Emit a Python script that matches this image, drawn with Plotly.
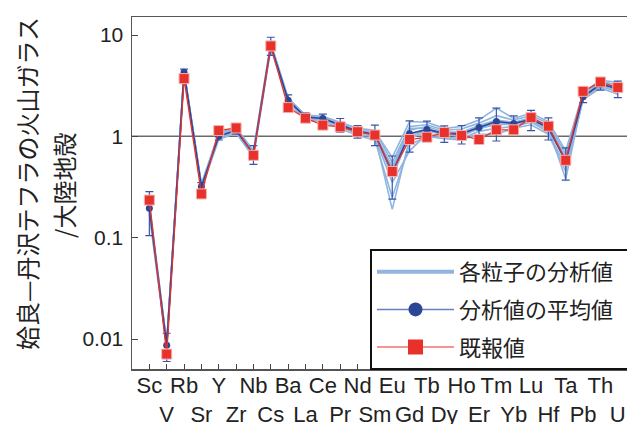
import plotly.graph_objects as go

elements = ["Sc", "V", "Rb", "Sr", "Y", "Zr", "Nb", "Cs", "Ba", "La", "Ce", "Pr", "Nd", "Sm",
            "Eu", "Gd", "Tb", "Dy", "Ho", "Er", "Tm", "Yb", "Lu", "Hf", "Ta", "Pb", "Th", "U"]

# mean of particle analyses
mean_vals = [0.195, 0.0087, 4.3, 0.32, 1.0, 1.15, 0.67, 7.9, 2.27, 1.55, 1.50, 1.30, 1.12, 1.05,
             0.44, 1.06, 1.17, 1.07, 1.06, 1.22, 1.40, 1.34, 1.47, 1.22, 0.57, 2.46, 3.26, 2.96]
mean_err = [0.09, 0.0027, 0.3, 0.03, 0.08, 0.1, 0.14, 1.6, 0.29, 0.16, 0.16, 0.2, 0.16, 0.24,
            0.2, 0.36, 0.24, 0.2, 0.22, 0.3, 0.5, 0.25, 0.33, 0.3, 0.2, 0.31, 0.4, 0.55]
# previously reported values
reported = [0.235, 0.0071, 3.71, 0.27, 1.14, 1.21, 0.65, 7.8, 1.92, 1.51, 1.29, 1.24, 1.11, 1.03,
            0.45, 0.93, 0.98, 1.09, 1.02, 0.93, 1.16, 1.16, 1.53, 1.26, 0.58, 2.78, 3.44, 3.03]

# individual particles
p1 = [0.21, 0.0090, 4.4, 0.33, 1.05, 1.2, 0.70, 8.2, 2.35, 1.62, 1.58, 1.38, 1.2, 1.15,
      0.55, 1.25, 1.3, 1.15, 1.18, 1.35, 1.6, 1.45, 1.6, 1.35, 0.66, 2.6, 3.5, 3.2]
p2 = [0.17, 0.0082, 4.1, 0.30, 0.93, 1.08, 0.62, 7.4, 2.15, 1.45, 1.40, 1.2, 1.02, 0.92,
      0.25, 0.82, 1.0, 0.95, 0.92, 1.05, 1.05, 1.2, 1.3, 1.05, 0.45, 2.3, 3.0, 2.6]
p3 = [0.19, 0.0085, 4.25, 0.31, 0.98, 1.14, 0.66, 7.8, 2.25, 1.52, 1.5, 1.28, 1.1, 1.02,
      0.19, 0.95, 1.12, 1.05, 1.0, 1.2, 1.3, 1.32, 1.45, 1.2, 0.38, 2.45, 3.25, 2.9]
p4 = [0.22, 0.0092, 4.45, 0.34, 1.08, 1.22, 0.72, 8.4, 2.4, 1.6, 1.55, 1.35, 1.18, 1.12,
      0.62, 1.4, 1.38, 1.2, 1.25, 1.45, 1.9, 1.5, 1.7, 1.4, 0.72, 2.7, 3.6, 3.4]
p5 = [0.18, 0.0086, 4.2, 0.32, 0.95, 1.12, 0.64, 7.6, 2.2, 1.5, 1.45, 1.25, 1.06, 0.98,
      0.35, 0.72, 1.05, 0.98, 0.95, 1.12, 1.2, 1.25, 1.38, 1.1, 0.5, 2.35, 3.1, 2.75]
p6 = [0.2, 0.0088, 4.35, 0.33, 1.02, 1.17, 0.68, 8.0, 2.3, 1.58, 1.52, 1.32, 1.14, 1.08,
      0.48, 1.15, 1.25, 1.1, 1.1, 1.28, 1.45, 1.38, 1.52, 1.28, 0.6, 2.5, 3.35, 3.05]
p7 = [0.19, 0.0084, 4.3, 0.31, 0.99, 1.15, 0.67, 7.9, 2.27, 1.54, 1.48, 1.3, 1.12, 1.04,
      0.40, 1.0, 1.15, 1.08, 1.05, 1.18, 1.35, 1.35, 1.48, 1.22, 0.55, 2.45, 3.3, 3.0]
p8 = [0.2, 0.0089, 4.3, 0.32, 1.0, 1.16, 0.66, 7.95, 2.28, 1.56, 1.52, 1.3, 1.12, 1.06,
      0.5, 1.2, 1.2, 1.05, 1.08, 1.25, 1.42, 1.3, 1.42, 1.15, 0.62, 2.5, 3.2, 2.85]
particles = [p1, p2, p3, p4, p5, p6, p7, p8]

y_tickvals = [0.01, 0.1, 1, 10]
y_ticktext = ["0.01", "0.1", "1", "10"]

LIGHT = "#8fb5e0"
DARK = "#2d4597"
RED = "#e8312b"
xs = list(range(len(elements)))

fig = go.Figure()
for p in particles:
    fig.add_trace(go.Scatter(x=xs, y=p, mode="lines", line=dict(color=LIGHT, width=1.6),
                             showlegend=False, hoverinfo="skip"))

fig.add_trace(go.Scatter(x=xs, y=mean_vals, mode="lines+markers",
                         line=dict(color=DARK, width=1.6),
                         marker=dict(symbol="circle", size=7, color=DARK),
                         error_y=dict(type="data", array=mean_err, visible=True,
                                      color="#3a55a8", thickness=1.2, width=4),
                         showlegend=False))
fig.add_trace(go.Scatter(x=xs, y=reported, mode="lines+markers",
                         line=dict(color=RED, width=1.3),
                         marker=dict(symbol="square", size=10, color=RED,
                                     line=dict(color="#f6b0ad", width=1)),
                         showlegend=False))

# legend-only entries
fig.add_trace(go.Scatter(x=[None], y=[None], mode="lines", name="各粒子の分析値　",
                         line=dict(color=LIGHT, width=4), legendgroup="a"))
fig.add_trace(go.Scatter(x=[None], y=[None], mode="lines+markers", name="分析値の平均値",
                         line=dict(color="#6a7fc0", width=1.5),
                         marker=dict(symbol="circle", size=14, color=DARK), legendgroup="b"))
fig.add_trace(go.Scatter(x=[None], y=[None], mode="lines+markers", name="既報値",
                         line=dict(color="#f07070", width=1.5),
                         marker=dict(symbol="square", size=15, color=RED), legendgroup="c"))

fig.add_shape(type="line", xref="paper", x0=0, x1=1, yref="y", y0=1, y1=1,
              line=dict(color="#6a6a6a", width=1.5), layer="below")

ticktext = [e if i % 2 == 0 else "<br>" + e for i, e in enumerate(elements)]

W, H = 627, 424
L, T, PW, PH = 132, 17, 495, 352
fig.update_layout(
    width=W, height=H,
    margin=dict(l=L, r=W - L - PW, t=T, b=H - T - PH, autoexpand=False),
    paper_bgcolor="white", plot_bgcolor="white",
    font=dict(family="Liberation Sans, Arial, sans-serif", color="#222"),
    xaxis=dict(range=[-1, 27.53], tickvals=xs, ticktext=ticktext, ticks="inside", ticklen=5,
               tickcolor="#444", showline=True, linecolor="#555", linewidth=1.5, mirror=True,
               showgrid=False, zeroline=False, tickfont=dict(size=22, color="#222"),
               tickangle=0, automargin=False, ticklabelstandoff=-4),
    yaxis=dict(type="log", range=[-2.296, 1.1777], tickvals=y_tickvals, ticktext=y_ticktext,
               ticks="inside", ticklen=6, tickcolor="#444", showline=True, linecolor="#555",
               linewidth=1.5, showgrid=False, zeroline=False, automargin=False,
               tickfont=dict(size=21, color="#222"), ticklabelstandoff=3),
    legend=dict(x=(370 - L) / PW, xanchor="left", y=1 - (249 - T) / PH, yanchor="top",
                bgcolor="white", bordercolor="#111", borderwidth=2, traceorder="grouped",
                tracegroupgap=6, font=dict(family="Noto Sans CJK JP", size=22, color="#222"),
                itemwidth=77),
    showlegend=True,
)

fig.add_annotation(text="姶良—丹沢テフラの火山ガラス", xref="paper", yref="paper",
                   x=(27 - L) / PW, y=1 - (184 - T) / PH, textangle=-90,
                   showarrow=False, xanchor="center", yanchor="middle",
                   font=dict(family="Noto Sans CJK JP", size=24, color="#222"))
fig.add_annotation(text="/大陸地殻", xref="paper", yref="paper",
                   x=(63 - L) / PW, y=1 - (186 - T) / PH, textangle=-90,
                   showarrow=False, xanchor="center", yanchor="middle",
                   font=dict(family="Noto Sans CJK JP", size=24, color="#222"))

# remove the browser's default page margin so the figure fills the window exactly
fig.write_html("out.html", config={"displayModeBar": False, "staticPlot": True},
               post_script="document.body.style.margin='0';document.body.style.overflow='hidden';")
